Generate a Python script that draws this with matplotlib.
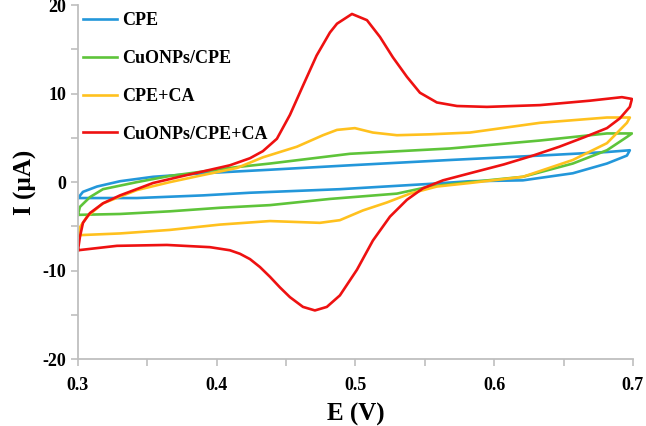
import matplotlib
matplotlib.use("Agg")
import matplotlib.pyplot as plt

# CV loops: forward scan 0.3 -> 0.7 then back to 0.3
cpe_E = [0.300, 0.3036, 0.3137, 0.3303, 0.3541, 0.3901, 0.4384, 0.4960, 0.5681,
         0.6330, 0.6813, 0.6978, 0.6957, 0.6813, 0.6567, 0.6207, 0.5825,
         0.5537, 0.4888, 0.4240, 0.3901, 0.3425, 0.300]
cpe_I = [-1.8, -1.1, -0.5, 0.1, 0.6, 1.0, 1.4, 1.9, 2.5,
         3.0, 3.4, 3.6, 3.0, 2.1, 1.0, 0.2, 0.1,
         -0.2, -0.8, -1.2, -1.5, -1.8, -1.8]

cuo_E = [0.300, 0.3014, 0.3086, 0.3180, 0.3425, 0.3663, 0.3901, 0.4146, 0.4384,
         0.4960, 0.5681, 0.6330, 0.6813, 0.6993, 0.6957, 0.6813, 0.6567,
         0.6207, 0.5825, 0.5537, 0.5299, 0.4816, 0.4384, 0.4023, 0.3663,
         0.3303, 0.300]
cuo_I = [-3.7, -2.8, -1.7, -0.8, 0.0, 0.7, 1.2, 1.7, 2.1,
         3.2, 3.8, 4.7, 5.5, 5.5, 5.1, 3.6, 2.1,
         0.6, 0.0, -0.5, -1.3, -1.9, -2.6, -2.9, -3.3,
         -3.6, -3.7]

ca_E = [0.300, 0.3014, 0.3065, 0.3180, 0.3425, 0.3663, 0.3901, 0.4146, 0.4333,
        0.4578, 0.4766, 0.4867, 0.4996, 0.5126, 0.5299, 0.5537, 0.5825,
        0.6330, 0.6813, 0.6978, 0.6957, 0.6813, 0.6567, 0.6207, 0.5825,
        0.5587, 0.5393, 0.5227, 0.5054, 0.4888, 0.4744, 0.4384, 0.4023,
        0.3663, 0.3303, 0.300]
ca_I = [-6.0, -5.1, -3.9, -2.4, -0.9, 0.0, 0.8, 1.6, 2.8,
        4.0, 5.3, 5.9, 6.1, 5.6, 5.3, 5.4, 5.6,
        6.7, 7.3, 7.3, 6.7, 4.4, 2.5, 0.6, -0.1,
        -0.5, -1.3, -2.3, -3.2, -4.3, -4.6, -4.4, -4.8,
        -5.4, -5.8, -6.0]

cuoca_E = [0.300, 0.3014, 0.3036, 0.3086, 0.3180, 0.3303, 0.3541, 0.3786, 0.4095,
           0.4240, 0.4333, 0.4434, 0.4528, 0.4622, 0.4720, 0.4816, 0.4867, 0.4975,
           0.5083, 0.5177, 0.5270, 0.5371, 0.5465, 0.5587, 0.5732, 0.5948,
           0.6330, 0.6690, 0.6921, 0.6993, 0.6978, 0.6906, 0.6813, 0.6654,
           0.6470, 0.6280, 0.6070, 0.5825, 0.5631, 0.5487, 0.5371, 0.5249,
           0.5126, 0.5011, 0.4888, 0.4794, 0.4708, 0.4622, 0.4528, 0.4456, 0.4384,
           0.4312, 0.4240, 0.4168, 0.4095, 0.3951, 0.3641, 0.3281, 0.300]
cuoca_I = [-7.7, -6.2, -4.6, -3.5, -2.4, -1.5, -0.1, 0.8, 1.9,
           2.7, 3.5, 4.9, 7.6, 10.9, 14.3, 16.9, 17.9, 19.0,
           18.3, 16.4, 14.1, 11.9, 10.1, 9.0, 8.6, 8.5,
           8.7, 9.2, 9.6, 9.4, 8.5, 7.2, 6.1, 5.1,
           4.0, 3.0, 2.0, 1.0, 0.2, -0.7, -2.0, -3.9,
           -6.6, -9.9, -12.8, -14.1, -14.5, -14.1, -13.0, -11.9, -10.7,
           -9.6, -8.7, -8.1, -7.7, -7.35, -7.1, -7.2, -7.7]

labels = ["CPE", "CuONPs/CPE", "CPE+CA", "CuONPs/CPE+CA"]
colors = ["#2397DA", "#5EC43A", "#FFC11E", "#EE1111"]

plt.rcParams["font.family"] = ["Liberation Serif", "DejaVu Serif"]
plt.rcParams["font.weight"] = "bold"

fig = plt.figure(figsize=(6.46, 4.26), dpi=100)
ax = fig.add_axes([0.1207, 0.157, 0.859, 0.831])

curves = [(cpe_E, cpe_I), (cuo_E, cuo_I), (ca_E, ca_I), (cuoca_E, cuoca_I)]
for (e, i), lab, c in zip(curves, labels, colors):
    ax.plot(e, i, color=c, lw=1.9, label=lab, solid_joinstyle="round")

ax.set_xlim(0.3, 0.7)
ax.set_ylim(-20, 20)
ax.set_xticks([0.3, 0.35, 0.4, 0.45, 0.5, 0.55, 0.6, 0.65, 0.7])
ax.set_xticklabels(["0.3", "", "0.4", "", "0.5", "", "0.6", "", "0.7"])
ax.set_yticks([-20, -15, -10, -5, 0, 5, 10, 15, 20])
ax.set_yticklabels(["-20", "", "-10", "", "0", "", "10", "", "20"])

for s in ["top", "right"]:
    ax.spines[s].set_visible(False)
for s in ["left", "bottom"]:
    ax.spines[s].set_color("#BFBFBF")
    ax.spines[s].set_linewidth(1.3)
ax.tick_params(colors="#BFBFBF", length=5, width=1.2, labelcolor="black",
               labelsize=13)
ax.tick_params(axis="x", pad=8)

ax.set_xlabel("E (V)", fontsize=18, fontweight="bold", labelpad=6)
ax.set_ylabel("I (\u00b5A)", fontsize=18, fontweight="bold", labelpad=4)

ax.legend(loc="upper left", bbox_to_anchor=(-0.007, 1.005), frameon=False,
          fontsize=13, handlelength=1.9, handletextpad=0.25,
          labelspacing=1.15, borderaxespad=0.1)

fig.savefig("out.png", dpi=100)
